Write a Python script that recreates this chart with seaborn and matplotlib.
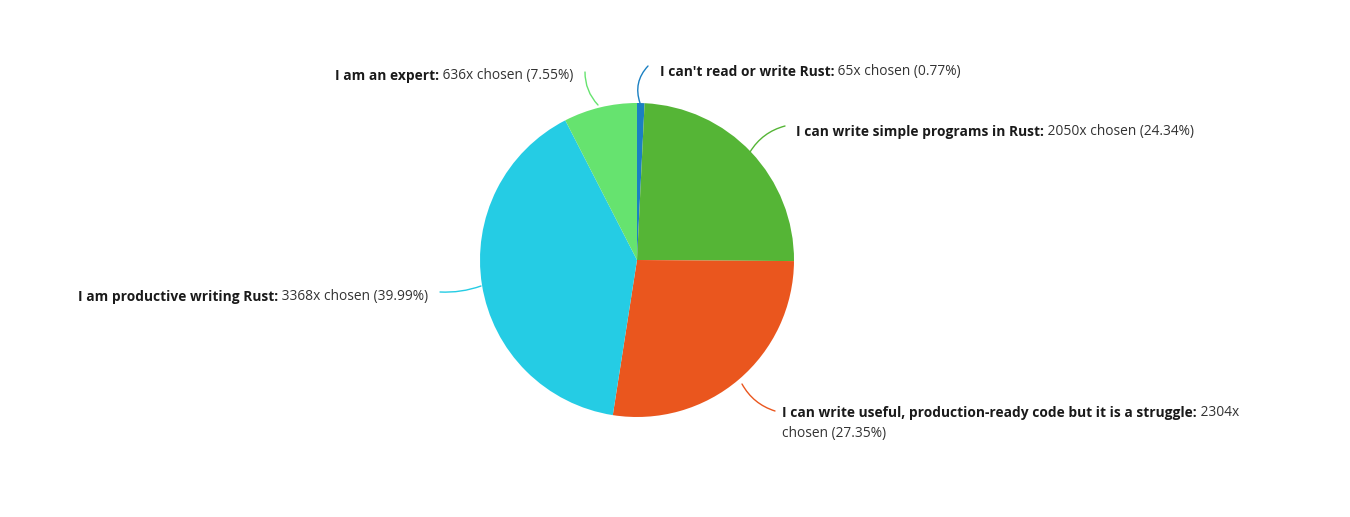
import matplotlib
matplotlib.use('Agg')
import matplotlib.pyplot as plt
import seaborn as sns

sns.set_theme(style='white')
plt.rcParams['font.family'] = ['Open Sans', 'DejaVu Sans']

# data
labels = ["I can't read or write Rust:",
          "I can write simple programs in Rust:",
          "I can write useful, production-ready code but it is a struggle:",
          "I am productive writing Rust:",
          "I am an expert:"]
counts = [65, 2050, 2304, 3368, 636]
percents = ["0.77%", "24.34%", "27.35%", "39.99%", "7.55%"]
colors = ['#1b80c2', '#55b536', '#ea561e', '#25cce4', '#66e36f']

W, H = 1350, 517
fig = plt.figure(figsize=(W / 100, H / 100), dpi=100)
ax = fig.add_axes([0, 0, 1, 1])

cx, cy, r = 637, H - 260, 157
ax.pie(counts, colors=colors, startangle=90, counterclock=False,
       center=(cx, cy), radius=r, frame=True,
       wedgeprops=dict(linewidth=0))
ax.set_xlim(0, W)
ax.set_ylim(0, H)
ax.axis('off')

# label placement (pixel coords, y from top): text start, leader start/end, curve
layout = [
    dict(tx=660, ty=72, p0=(640, 103), p1=(648, 66), rad=-0.3),
    dict(tx=796, ty=132, p0=(750, 152), p1=(785, 126), rad=-0.2),
    dict(tx=782, ty=413, p0=(742, 384), p1=(775, 411), rad=0.2),
    dict(tx=78, ty=297, p0=(481, 286), p1=(440, 292), rad=-0.1),
    dict(tx=335, ty=76, p0=(598, 105), p1=(585, 72), rad=-0.2),
]

fs = 9.9
for lab, n, pct, col, lo in zip(labels, counts, percents, colors, layout):
    x0, y0 = lo['p0']
    x1, y1 = lo['p1']
    ax.annotate('', xy=(x1, H - y1), xytext=(x0, H - y0),
                arrowprops=dict(arrowstyle='-', color=col, lw=1,
                                connectionstyle='arc3,rad=%s' % lo['rad'],
                                shrinkA=0, shrinkB=0))
    t = ax.text(lo['tx'], H - lo['ty'], lab, fontsize=fs, fontweight='bold',
                color='#1a1a1a', ha='left', va='center')
    if n == 2304:
        ax.annotate(' %dx' % n, xy=(1, 0), xycoords=t, va='bottom', ha='left',
                    fontsize=fs, color='#333333')
        ax.text(lo['tx'], H - lo['ty'] - 20, 'chosen (%s)' % pct, fontsize=fs,
                color='#333333', ha='left', va='center')
    else:
        ax.annotate(' %dx chosen (%s)' % (n, pct), xy=(1, 0), xycoords=t,
                    va='bottom', ha='left', fontsize=fs, color='#333333')

fig.savefig('out.png', dpi=100, facecolor='white')
